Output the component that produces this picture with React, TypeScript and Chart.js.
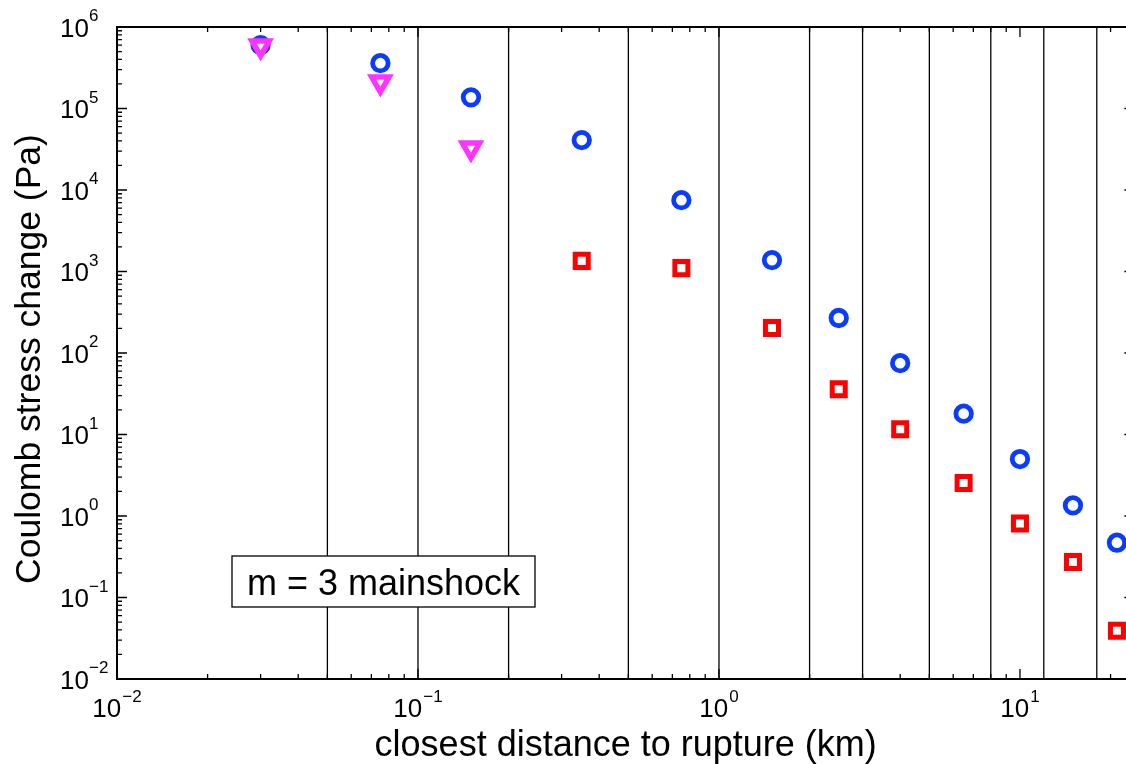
import React, { useEffect, useRef } from "react";
import { Chart, registerables } from "chart.js";

Chart.register(...registerables);

// ---------------- data ----------------
const binCenters = [0.03, 0.075, 0.15, 0.35, 0.75, 1.5, 2.5, 4, 6.5, 10, 15, 21];
const blueCircles = [6.0e5, 3.6e5, 1.37e5, 4.1e4, 7.5e3, 1.38e3, 269, 75, 18, 5.0, 1.35, 0.47];
const redSquares = [null, null, null, 1350, 1100, 203, 36, 11.6, 2.54, 0.81, 0.273, 0.039];
const magentaTriangles = [5.85e5, 2.11e5, 3.27e4, null, null, null, null, null, null, null, null, null];
const binEdges = [0.05, 0.1, 0.2, 0.5, 1, 2, 3, 5, 8, 12, 18];
const xRange = [0.01, 24];
const yRange = [1e-2, 1e6];
const xTickExponents = [-2, -1, 0, 1];
const yTickExponents = [-2, -1, 0, 1, 2, 3, 4, 5, 6];
const xTitle = "closest distance to rupture (km)";
const yTitle = "Coulomb stress change (Pa)";
const boxText = "m = 3 mainshock";

const FONT = "'Liberation Sans', Arial, Helvetica, sans-serif";
const CANVAS_W = 1150;
const CANVAS_H = 764;

function toPoints(xs: number[], ys: (number | null)[]) {
  const out: { x: number; y: number }[] = [];
  xs.forEach((x, i) => {
    const y = ys[i];
    if (y !== null && y !== undefined) out.push({ x, y });
  });
  return out;
}

function expStr(e: number) {
  return e < 0 ? "\u2212" + String(-e) : String(e);
}

function logTicks(min: number, max: number) {
  const res: { v: number; major: boolean }[] = [];
  const d0 = Math.floor(Math.log10(min));
  const d1 = Math.ceil(Math.log10(max));
  for (let d = d0; d <= d1; d++) {
    for (let k = 1; k <= 9; k++) {
      const v = k * Math.pow(10, d);
      if (v >= min * 0.9999 && v <= max * 1.0001) res.push({ v, major: k === 1 });
    }
  }
  return res;
}

const matlabAxes = {
  id: "matlabAxes",
  afterDraw(chart: any) {
    const ctx: CanvasRenderingContext2D = chart.ctx;
    const { left, right, top, bottom } = chart.chartArea;
    const xs = chart.scales.x;
    const ys = chart.scales.y;
    ctx.save();

    // annotation box
    const bx = left + 115;
    const by = top + 529;
    const bw = 303;
    const bh = 51;
    ctx.fillStyle = "#fff";
    ctx.fillRect(bx, by, bw, bh);
    ctx.strokeStyle = "#000";
    ctx.lineWidth = 1.3;
    ctx.strokeRect(bx, by, bw, bh);
    ctx.fillStyle = "#000";
    ctx.font = `36px ${FONT}`;
    ctx.textAlign = "center";
    ctx.textBaseline = "alphabetic";
    ctx.fillText(boxText, bx + bw / 2, by + 39);

    // frame
    ctx.strokeStyle = "#000";
    ctx.lineWidth = 2;
    ctx.strokeRect(left, top, right - left, bottom - top);

    // ticks (inward, all four sides)
    ctx.lineWidth = 1.3;
    ctx.beginPath();
    for (const t of logTicks(xRange[0], xRange[1])) {
      const px = xs.getPixelForValue(t.v);
      const len = t.major ? 10 : 5;
      ctx.moveTo(px, bottom);
      ctx.lineTo(px, bottom - len);
      ctx.moveTo(px, top);
      ctx.lineTo(px, top + len);
    }
    for (const t of logTicks(yRange[0], yRange[1])) {
      const py = ys.getPixelForValue(t.v);
      const len = t.major ? 10 : 5;
      ctx.moveTo(left, py);
      ctx.lineTo(left + len, py);
      ctx.moveTo(right, py);
      ctx.lineTo(right - len, py);
    }
    ctx.stroke();

    // y tick labels
    ctx.fillStyle = "#000";
    ctx.textBaseline = "alphabetic";
    for (const e of yTickExponents) {
      const py = ys.getPixelForValue(Math.pow(10, e));
      ctx.font = `26px ${FONT}`;
      ctx.textAlign = "right";
      ctx.fillText("10", left - 28, py + 9.5);
      ctx.font = `17px ${FONT}`;
      ctx.textAlign = "left";
      ctx.fillText(expStr(e), left - 28, py - 6);
    }

    // x tick labels
    for (const e of xTickExponents) {
      const px = xs.getPixelForValue(Math.pow(10, e));
      ctx.font = `26px ${FONT}`;
      const wb = ctx.measureText("10").width;
      ctx.font = `17px ${FONT}`;
      const ex = expStr(e);
      const we = ctx.measureText(ex).width;
      const gap = 1;
      const start = px - (wb + gap + we) / 2;
      ctx.textAlign = "left";
      ctx.font = `26px ${FONT}`;
      ctx.fillText("10", start, bottom + 38);
      ctx.font = `17px ${FONT}`;
      ctx.fillText(ex, start + wb + gap, bottom + 23);
    }

    // axis titles
    ctx.font = `36px ${FONT}`;
    ctx.textAlign = "center";
    ctx.fillText(xTitle, (left + right) / 2, bottom + 77);
    ctx.save();
    ctx.font = `35.5px ${FONT}`;
    ctx.translate(40, (top + bottom) / 2 + 6);
    ctx.rotate(-Math.PI / 2);
    ctx.fillText(yTitle, 0, 0);
    ctx.restore();

    ctx.restore();
  },
};

export default function App() {
  const ref = useRef<HTMLCanvasElement | null>(null);

  useEffect(() => {
    if (!ref.current) return;
    const edgeSets = binEdges.map((e) => ({
      type: "scatter" as const,
      data: [
        { x: e, y: yRange[0] },
        { x: e, y: yRange[1] },
      ],
      showLine: true,
      borderColor: "#000",
      borderWidth: 1.3,
      pointRadius: 0,
      fill: false,
      order: 10,
    }));

    const chart = new Chart(ref.current, {
      type: "scatter",
      data: {
        datasets: [
          ...edgeSets,
          {
            data: toPoints(binCenters, blueCircles),
            pointStyle: "circle",
            pointRadius: 7.75,
            pointBorderWidth: 4.8,
            pointBorderColor: "#0a3cff",
            pointBackgroundColor: "rgba(0,0,0,0)",
            showLine: false,
            order: 3,
          },
          {
            data: toPoints(binCenters, redSquares),
            pointStyle: "rect",
            pointRadius: 9.2,
            pointBorderWidth: 5,
            pointBorderColor: "#ff0000",
            pointBackgroundColor: "rgba(0,0,0,0)",
            showLine: false,
            order: 2,
          },
          {
            data: toPoints(binCenters, magentaTriangles),
            pointStyle: "triangle",
            pointRotation: 180,
            pointRadius: 10,
            pointBorderWidth: 5.5,
            pointBorderColor: "#ff33ff",
            pointBackgroundColor: "rgba(0,0,0,0)",
            showLine: false,
            order: 1,
          },
        ] as any,
      },
      options: {
        animation: false,
        responsive: false,
        events: [],
        layout: {
          padding: { left: 117, top: 27, right: CANVAS_W - 1134.4, bottom: 85 },
        },
        plugins: {
          legend: { display: false },
          tooltip: { enabled: false },
        },
        scales: {
          x: { type: "logarithmic", min: xRange[0], max: xRange[1], display: false },
          y: { type: "logarithmic", min: yRange[0], max: yRange[1], display: false },
        },
      },
      plugins: [matlabAxes],
    });
    return () => chart.destroy();
  }, []);

  return (
    <div
      style={{
        position: "fixed",
        left: 0,
        top: 0,
        width: 1126,
        height: 764,
        overflow: "hidden",
        background: "#fff",
      }}
    >
      <canvas
        ref={ref}
        width={CANVAS_W}
        height={CANVAS_H}
        style={{ display: "block", width: CANVAS_W, height: CANVAS_H }}
      />
    </div>
  );
}
